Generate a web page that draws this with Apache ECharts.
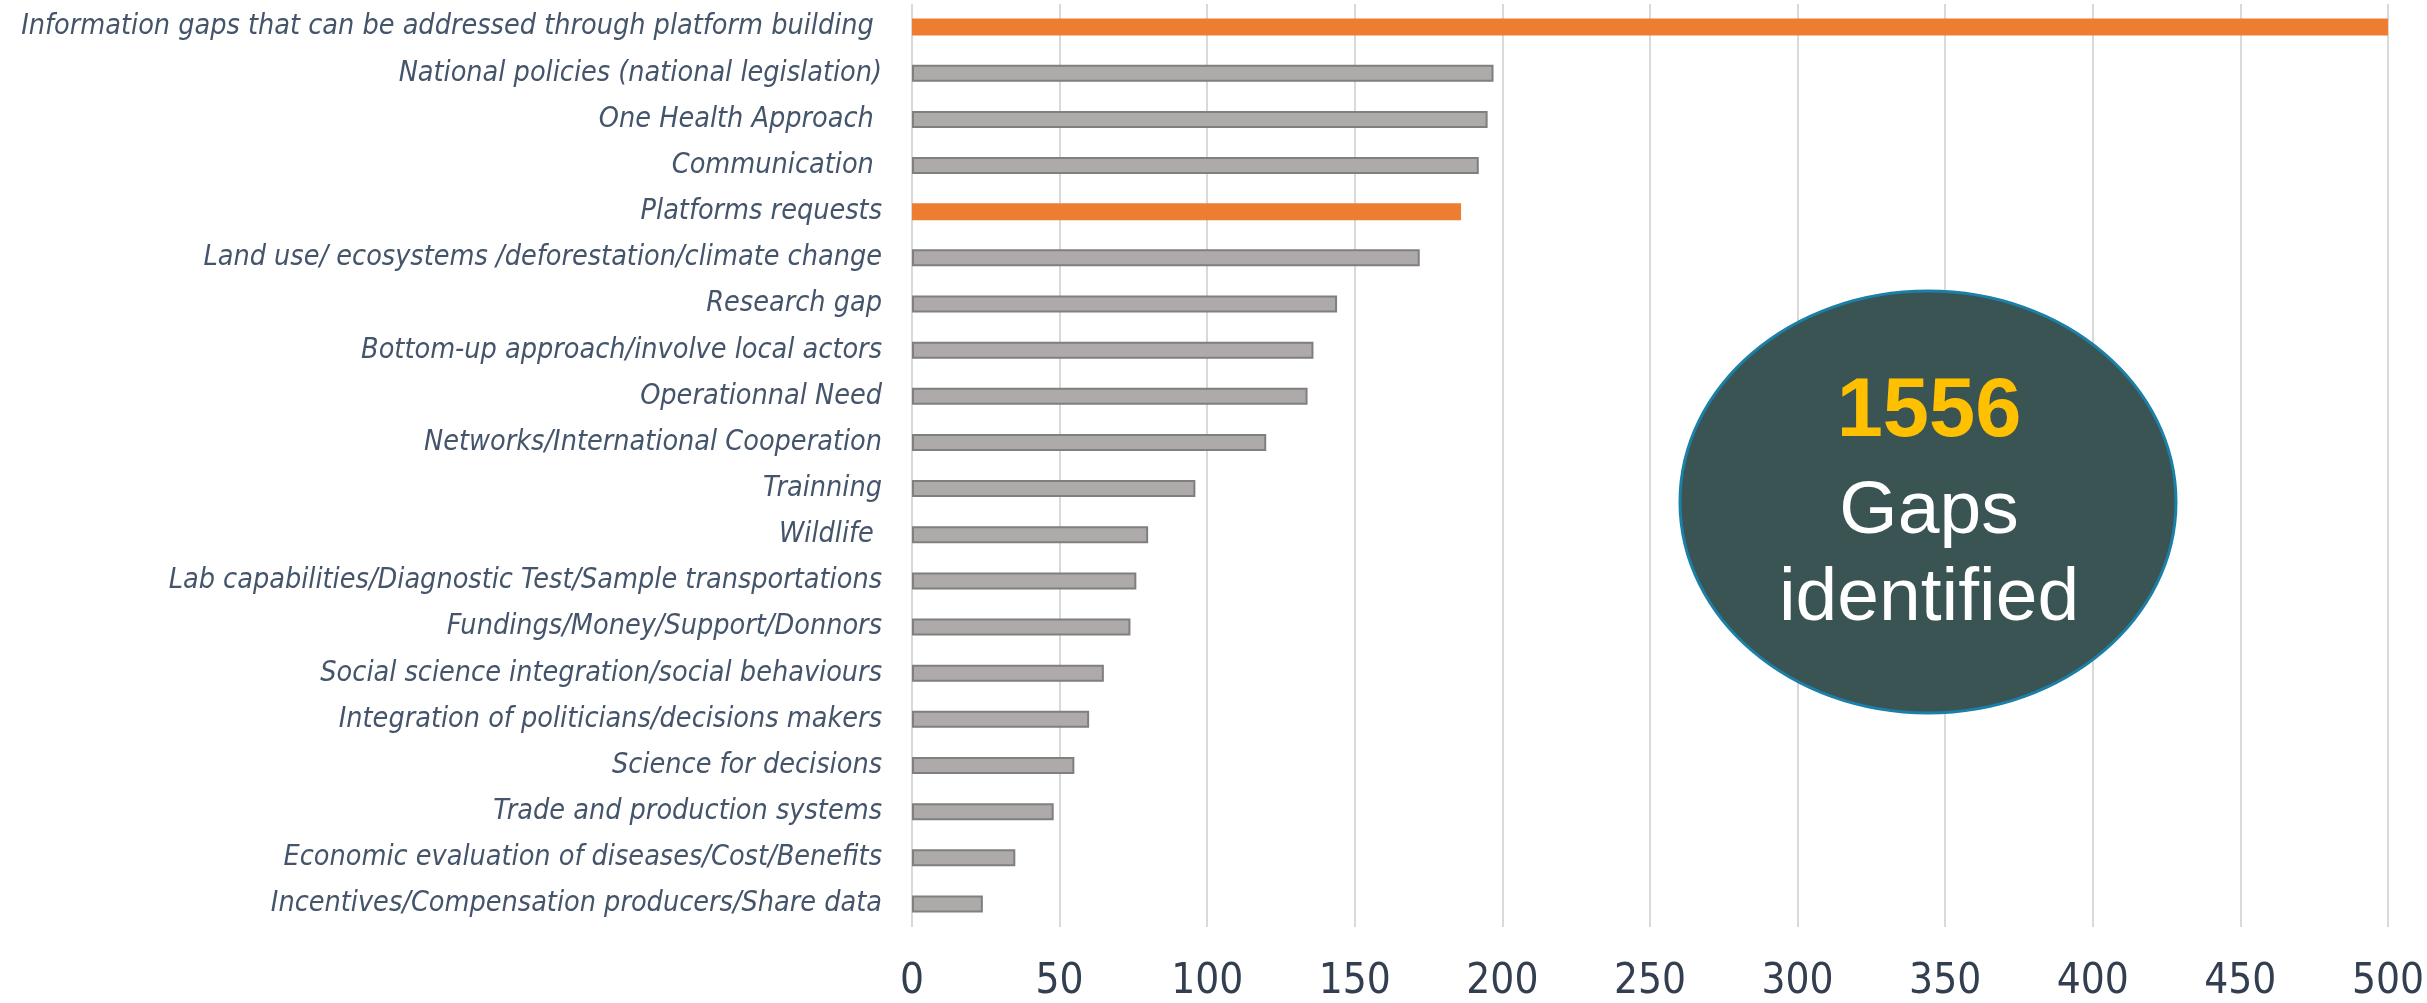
<!DOCTYPE html>
<html>
<head>
<meta charset="utf-8">
<script src="https://cdn.jsdelivr.net/npm/echarts@6/dist/echarts.min.js"></script>
<style>
html,body{margin:0;padding:0;background:#fff;}
#chart{width:2427px;height:1003px;}
</style>
</head>
<body>
<div id="chart"></div>
<script>
// Categories, top to bottom
const categories = [
  "Information gaps that can be addressed through platform building ",
  "National policies (national legislation)",
  "One Health Approach ",
  "Communication ",
  "Platforms requests",
  "Land use/ ecosystems /deforestation/climate change",
  "Research gap",
  "Bottom-up approach/involve local actors",
  "Operationnal Need",
  "Networks/International Cooperation",
  "Trainning",
  "Wildlife ",
  "Lab capabilities/Diagnostic Test/Sample transportations",
  "Fundings/Money/Support/Donnors",
  "Social science integration/social behaviours",
  "Integration of politicians/decisions makers",
  "Science for decisions",
  "Trade and production systems",
  "Economic evaluation of diseases/Cost/Benefits",
  "Incentives/Compensation producers/Share data"
];
// Values (first bar reaches the axis maximum)
const values = [500, 197, 195, 192, 186, 172, 144, 136, 134, 120, 96, 80, 76, 74, 65, 60, 55, 48, 35, 24];
// Highlighted (orange) categories
const highlighted = ["Information gaps that can be addressed through platform building ", "Platforms requests"];
// X axis ticks
const xTicks = [0, 50, 100, 150, 200, 250, 300, 350, 400, 450, 500];
// Callout text
const calloutNumber = "1556";
const calloutLines = ["Gaps", "identified"];

const chart = echarts.init(document.getElementById('chart'), null, {renderer: 'canvas'});

const seriesData = values.map((v, i) => {
  const hi = highlighted.includes(categories[i]);
  return {
    value: v,
    itemStyle: hi
      ? {color: '#ED7D31', borderWidth: 0}
      : {color: '#AEAAAA', borderColor: '#7F7F7F', borderWidth: 2}
  };
});

const narrow = '"Liberation Sans Narrow", "DejaVu Sans Condensed", "Roboto Condensed", sans-serif';

chart.setOption({
  animation: false,
  backgroundColor: '#ffffff',
  grid: {left: 912, right: 35, top: 4, bottom: 72, containLabel: false},
  xAxis: {
    type: 'value',
    min: xTicks[0],
    max: xTicks[xTicks.length - 1],
    interval: xTicks[1] - xTicks[0],
    axisLine: {show: false},
    axisTick: {show: false},
    splitLine: {show: true, lineStyle: {color: '#D9D9D9', width: 2}},
    axisLabel: {
      color: '#333F50',
      fontFamily: narrow,
      fontSize: 42,
      margin: 34
    }
  },
  yAxis: {
    type: 'category',
    inverse: true,
    data: categories,
    axisLine: {show: false},
    axisTick: {show: false},
    splitLine: {show: false},
    axisLabel: {
      color: '#44546A',
      fontFamily: narrow,
      fontStyle: 'italic',
      fontSize: 28.5,
      margin: 30
    }
  },
  series: [{
    type: 'bar',
    data: seriesData,
    barWidth: 17,
    clip: true
  }],
  graphic: [
    {
      type: 'ellipse',
      shape: {cx: 1928, cy: 502, rx: 248, ry: 211},
      style: {fill: '#395453', stroke: '#1C7FA6', lineWidth: 3},
      z: 100
    },
    {
      type: 'text',
      x: 1929, y: 413,
      style: {
        text: calloutNumber,
        fill: '#FFC000',
        font: 'bold 83px "Liberation Sans", Arial, sans-serif',
        textAlign: 'center',
        textVerticalAlign: 'middle'
      },
      z: 101
    },
    {
      type: 'text',
      x: 1929, y: 512,
      style: {
        text: calloutLines[0],
        fill: '#FFFFFF',
        font: '75px "Liberation Sans", Arial, sans-serif',
        textAlign: 'center',
        textVerticalAlign: 'middle'
      },
      z: 101
    },
    {
      type: 'text',
      x: 1929, y: 599,
      style: {
        text: calloutLines[1],
        fill: '#FFFFFF',
        font: '75px "Liberation Sans", Arial, sans-serif',
        textAlign: 'center',
        textVerticalAlign: 'middle'
      },
      z: 101
    }
  ]
});
</script>
</body>
</html>
